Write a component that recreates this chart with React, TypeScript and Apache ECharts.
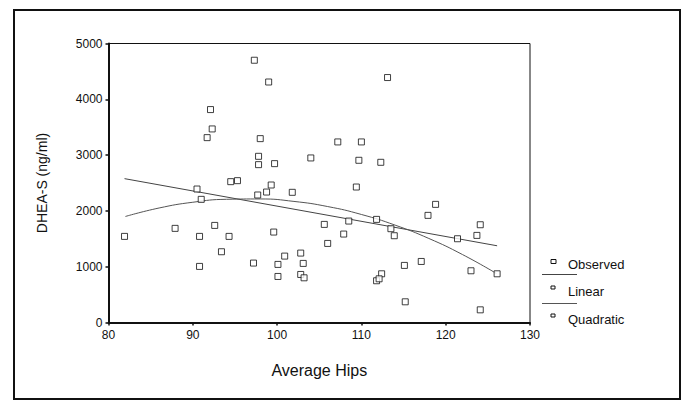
import React, { useEffect, useRef } from "react";
import * as echarts from "echarts";

const xTicks = [80, 90, 100, 110, 120, 130];
const yTicks = [0, 1000, 2000, 3000, 4000, 5000];

const observedX = [
  97.3, 99.0, 113.1, 92.1, 92.3, 91.7, 98.0, 107.2, 110.0, 97.8,
  97.8, 99.7, 104.0, 109.7, 112.3, 94.5, 95.3, 90.5, 99.3, 98.75,
  97.7, 101.8, 109.4, 91.0, 118.8, 117.9, 111.8, 108.5, 87.9, 92.6,
  99.6, 105.6, 124.1, 113.5, 113.9, 81.9, 90.8, 94.3, 107.9, 121.4,
  123.7, 106.0, 93.4, 102.8, 100.9, 97.2, 100.1, 103.1, 117.1, 115.1,
  90.8, 123.0, 126.1, 100.1, 102.8, 103.2, 112.4, 111.8, 112.1, 115.2,
  124.1,
];
const observedY = [
  4700, 4310, 4390, 3816, 3469, 3313, 3295, 3236, 3236, 2978,
  2829, 2847, 2949, 2907, 2871, 2524, 2542, 2392, 2464, 2338,
  2285, 2333, 2428, 2207, 2117, 1920, 1848, 1818, 1687, 1740,
  1621, 1758, 1752, 1681, 1555, 1543, 1543, 1543, 1585, 1501,
  1561, 1417, 1268, 1244, 1190, 1065, 1041, 1059, 1094, 1023,
  1005, 927, 873, 825, 861, 801, 873, 748, 783, 371,
  227,
];

const linearX = [81.9, 126.1];
const linearY = [2578, 1375];

const quadX = [82, 86, 90, 94, 98, 102, 106, 110, 114, 118, 122, 126];
const quadY = [1900, 2052, 2155, 2208, 2214, 2170, 2078, 1936, 1745, 1506, 1217, 880];

const legendLabels = ["Observed", "Linear", "Quadratic"];

const FONT = "Liberation Sans, Arial, sans-serif";

export default function App() {
  const ref = useRef<HTMLDivElement>(null);
  useEffect(() => {
    if (!ref.current) return;
    const chart = echarts.init(ref.current, null, { renderer: "svg" });
    const zip = (xs: number[], ys: number[]) => xs.map((x, i) => [x, ys[i]]);
    chart.setOption({
      animation: false,
      backgroundColor: "#ffffff",
      grid: {
        left: 108.5,
        right: 156,
        top: 43.5,
        bottom: 78.5,
        show: true,
        borderColor: "#111",
        borderWidth: 1,
        backgroundColor: "transparent",
      },
      xAxis: {
        type: "value",
        min: xTicks[0],
        max: xTicks[xTicks.length - 1],
        interval: 10,
        name: "Average Hips",
        nameLocation: "middle",
        nameGap: 40,
        nameTextStyle: { fontFamily: FONT, fontSize: 16, color: "#111" },
        axisLine: { show: true, onZero: false, lineStyle: { color: "#111", width: 2 } },
        axisTick: { show: true, length: 3, lineStyle: { color: "#111", width: 1.5 } },
        axisLabel: { fontFamily: FONT, fontSize: 12, color: "#111", margin: 6, formatter: (v: number) => String(v) },
        splitLine: { show: false },
      },
      yAxis: {
        type: "value",
        min: yTicks[0],
        max: yTicks[yTicks.length - 1],
        interval: 1000,
        name: "DHEA-S (ng/ml)",
        nameLocation: "middle",
        nameGap: 60,
        nameTextStyle: { fontFamily: FONT, fontSize: 14, color: "#111" },
        axisLine: { show: true, onZero: false, lineStyle: { color: "#111", width: 2 } },
        axisTick: { show: true, length: 3, lineStyle: { color: "#111", width: 1.5 } },
        axisLabel: { fontFamily: FONT, fontSize: 12, color: "#111", margin: 6, formatter: (v: number) => String(v) },
        splitLine: { show: false },
      },
      series: [
        {
          name: legendLabels[0],
          type: "scatter",
          data: zip(observedX, observedY),
          symbol: "rect",
          symbolSize: 6,
          itemStyle: { color: "#fff", borderColor: "#111", borderWidth: 1 },
          z: 3,
        },
        {
          name: legendLabels[1],
          type: "line",
          data: zip(linearX, linearY),
          showSymbol: false,
          lineStyle: { color: "#444", width: 1 },
          z: 2,
        },
        {
          name: legendLabels[2],
          type: "line",
          data: zip(quadX, quadY),
          smooth: true,
          showSymbol: false,
          lineStyle: { color: "#555", width: 1 },
          z: 2,
        },
      ],
      graphic: [
        {
          type: "rect",
          shape: { x: 14, y: 10, width: 666, height: 389 },
          style: { fill: "none", stroke: "#111", lineWidth: 2 },
          silent: true,
        },
        {
          type: "rect",
          shape: { x: 551, y: 259.5, width: 5, height: 4 },
          style: { fill: "#fff", stroke: "#111", lineWidth: 1 },
        },
        {
          type: "text",
          x: 568,
          y: 264,
          style: { text: legendLabels[0], font: `13px ${FONT}`, fill: "#111", verticalAlign: "middle" },
        },
        {
          type: "line",
          shape: { x1: 542, y1: 274.5, x2: 577, y2: 274.5 },
          style: { stroke: "#444", lineWidth: 1 },
        },
        {
          type: "rect",
          shape: { x: 551, y: 286, width: 4, height: 3 },
          style: { fill: "#fff", stroke: "#111", lineWidth: 1 },
        },
        {
          type: "text",
          x: 568,
          y: 291,
          style: { text: legendLabels[1], font: `13px ${FONT}`, fill: "#111", verticalAlign: "middle" },
        },
        {
          type: "line",
          shape: { x1: 542, y1: 303.5, x2: 577, y2: 303.5 },
          style: { stroke: "#555", lineWidth: 1 },
        },
        {
          type: "rect",
          shape: { x: 551, y: 314, width: 4, height: 3 },
          style: { fill: "#fff", stroke: "#111", lineWidth: 1 },
        },
        {
          type: "text",
          x: 568,
          y: 319,
          style: { text: legendLabels[2], font: `13px ${FONT}`, fill: "#111", verticalAlign: "middle" },
        },
      ],
    });
    return () => chart.dispose();
  }, []);
  return <div ref={ref} style={{ width: 686, height: 401, position: "absolute", left: 0, top: 0 }} />;
}
